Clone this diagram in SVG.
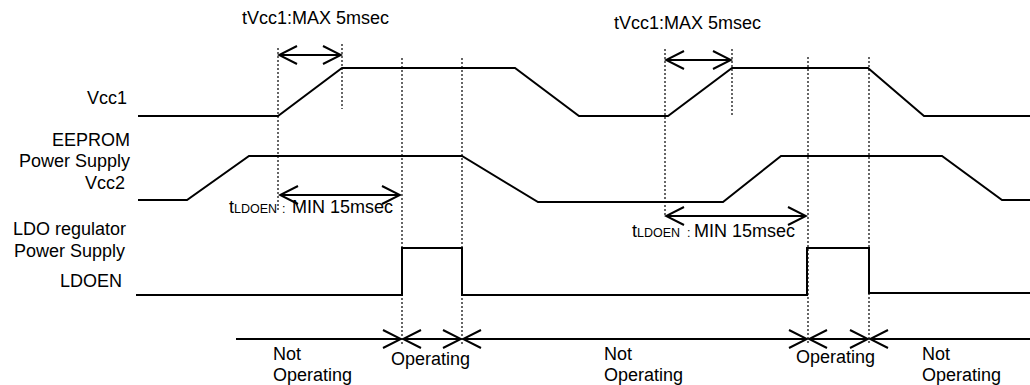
<svg xmlns="http://www.w3.org/2000/svg" width="1030" height="385" viewBox="0 0 1030 385">
<style>
text{font-family:"Liberation Sans",Arial,sans-serif;font-size:18px;fill:#000}
.lbl{text-anchor:end}
.wave{fill:none;stroke:#000;stroke-width:2}
.dot{fill:none;stroke:#000;stroke-width:1.2;stroke-dasharray:2 2}
.arr{fill:none;stroke:#000;stroke-width:2}
.sm{font-size:12.5px}
</style>
<defs>
<marker id="ah" viewBox="-20 -11 22 22" refX="0" refY="0" markerWidth="22" markerHeight="22" markerUnits="userSpaceOnUse" orient="auto-start-reverse">
<path d="M-18,-9 L0,0 L-18,9" fill="none" stroke="#000" stroke-width="2"/>
</marker>
</defs>
<rect width="1030" height="385" fill="#fff"/>
<g id="labels">
<text class="lbl" x="127" y="104">Vcc1</text>
<text class="lbl" x="130" y="146">EEPROM</text>
<text class="lbl" x="130" y="167">Power Supply</text>
<text class="lbl" x="125" y="189">Vcc2</text>
<text class="lbl" x="126" y="235">LDO regulator</text>
<text class="lbl" x="125" y="257">Power Supply</text>
<text class="lbl" x="122" y="287">LDOEN</text>
</g>
<g id="vcc1">
<polyline class="wave" points="138,116 278,116 342,68 515,68 579,116 668,116 732,68 868,68 924,116 1030,116"/>
</g>
<g id="vcc2">
<polyline class="wave" points="138,200 187,200 249,156 462,156 538,202 723,202 781,156 942,156 1002,200 1030,200"/>
</g>
<g id="ldoen">
<polyline class="wave" points="136,295 402,295 402,248 462,248 462,295 807,295 807,248 869,248 869,293 1030,293"/>
</g>
<g id="guides">
<line class="dot" x1="278" y1="48" x2="278" y2="212"/>
<line class="dot" x1="342" y1="44" x2="342" y2="109"/>
<line class="dot" x1="402" y1="58" x2="402" y2="345"/>
<line class="dot" x1="462" y1="58" x2="462" y2="345"/>
<line class="dot" x1="665" y1="49" x2="665" y2="217"/>
<line class="dot" x1="732" y1="49" x2="732" y2="117"/>
<line class="dot" x1="808" y1="57" x2="808" y2="345"/>
<line class="dot" x1="869" y1="57" x2="869" y2="345"/>
</g>
<g id="connectors">
<line class="arr" x1="279" y1="55" x2="341" y2="55" marker-start="url(#ah)" marker-end="url(#ah)"/>
<line class="arr" x1="666" y1="60" x2="731" y2="60" marker-start="url(#ah)" marker-end="url(#ah)"/>
<line class="arr" x1="280" y1="195" x2="400" y2="195" marker-start="url(#ah)" marker-end="url(#ah)"/>
<line class="arr" x1="666" y1="216" x2="806" y2="216" marker-start="url(#ah)" marker-end="url(#ah)"/>
<line class="arr" x1="236" y1="339" x2="401" y2="339" marker-end="url(#ah)"/>
<line class="arr" x1="403" y1="339" x2="461" y2="339" marker-start="url(#ah)" marker-end="url(#ah)"/>
<line class="arr" x1="463" y1="339" x2="807" y2="339" marker-start="url(#ah)" marker-end="url(#ah)"/>
<line class="arr" x1="809" y1="339" x2="868" y2="339" marker-start="url(#ah)" marker-end="url(#ah)"/>
<line class="arr" x1="870" y1="339" x2="1030" y2="339" marker-start="url(#ah)"/>
</g>
<g id="timing-labels">
<text x="242" y="24">tVcc1:MAX 5msec</text>
<text x="614" y="29">tVcc1:MAX 5msec</text>
<text y="213"><tspan x="229">t</tspan><tspan class="sm">LDOEN</tspan><tspan class="sm" x="282">:</tspan><tspan x="292">MIN 15msec</tspan></text>
<text y="237"><tspan x="632">t</tspan><tspan class="sm">LDOEN</tspan><tspan class="sm" x="687">:</tspan><tspan x="694">MIN 15msec</tspan></text>
</g>
<g id="states">
<text x="273" y="360">Not</text>
<text x="273" y="381">Operating</text>
<text x="391" y="365">Operating</text>
<text x="604" y="360">Not</text>
<text x="604" y="381">Operating</text>
<text x="796" y="363">Operating</text>
<text x="922" y="360">Not</text>
<text x="922" y="381">Operating</text>
</g>
</svg>
